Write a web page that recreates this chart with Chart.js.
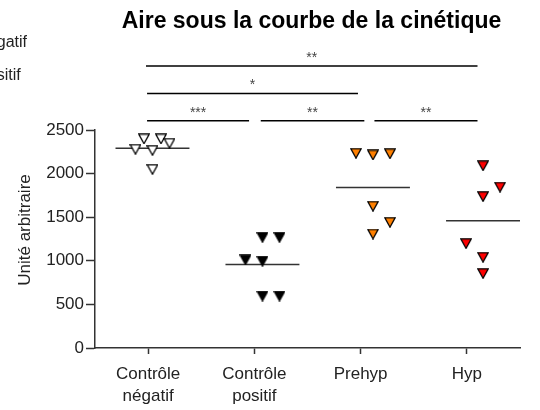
<!DOCTYPE html>
<html>
<head>
<meta charset="utf-8">
<script src="https://cdn.jsdelivr.net/npm/chart.js@4.4.1/dist/chart.umd.min.js"></script>
<style>
  html, body { margin: 0; padding: 0; background: #fff; }
  #wrap { width: 540px; height: 410px; }
</style>
</head>
<body>
<div id="wrap"><canvas id="myChart"></canvas></div>
<script>
const categories = [['Contrôle', 'négatif'], ['Contrôle', 'positif'], 'Prehyp', 'Hyp'];
const legendLabels = ['Contrôle négatif', 'Contrôle positif'];
const yTicks = [0, 500, 1000, 1500, 2000, 2500];

// one value per animal
const negatifValues = [2279, 2398, 2266, 2398, 2348, 2048];
const positifValues = [1269, 1269, 1011, 996, 596, 596];
const prehypValues = [2233, 2214, 2227, 1626, 1441, 1307];
const hypValues = [2090, 1845, 1736, 1197, 1040, 854];

// horizontal slot of each point around its column (scatter spread)
const negatifSlots = [-2, -1, 0, 1, 2, 0];
const positifSlots = [0, 2, -2, 0, 0, 2];
const prehypSlots = [-2, 0, 2, 0, 2, 0];
const hypSlots = [0, 2, 0, -2, 0, 0];

// significance brackets
const sigFrom = [0.98, 0.99, 0.99, 2.06, 3.13];
const sigTo = [4.10, 2.975, 1.95, 3.035, 4.10];
const sigLevel = [3233, 2920, 2607, 2607, 2607];
const sigStars = ['**', '*', '***', '**', '**'];

const FONT = '"Liberation Sans", Arial, sans-serif';
const columnCentres = [1.041, 2.076, 3.116, 4.152];
const slotStep = 0.08;
const meanHalfWidth = 0.348;

// down-pointing triangle marker, centred on its bounding box
function triangle(fill) {
  const c = document.createElement('canvas');
  c.width = 12;
  c.height = 11;
  const ctx = c.getContext('2d');
  ctx.beginPath();
  ctx.moveTo(0.8, 0.8);
  ctx.lineTo(11.2, 0.8);
  ctx.lineTo(6, 10.2);
  ctx.closePath();
  ctx.fillStyle = fill;
  ctx.fill();
  ctx.strokeStyle = '#000';
  ctx.lineWidth = 1.3;
  ctx.lineJoin = 'miter';
  ctx.stroke();
  return c;
}

const groups = [
  { values: negatifValues, slots: negatifSlots, color: '#ffffff' },
  { values: positifValues, slots: positifSlots, color: '#000000' },
  { values: prehypValues, slots: prehypSlots, color: '#ff8000' },
  { values: hypValues, slots: hypSlots, color: '#ff0000' },
];

const datasets = [];

groups.forEach((g, gi) => {
  const centre = columnCentres[gi];
  const mean = g.values.reduce((a, b) => a + b, 0) / g.values.length;
  datasets.push({
    label: 'mean' + gi,
    showLine: true,
    data: [{ x: centre - meanHalfWidth, y: mean }, { x: centre + meanHalfWidth, y: mean }],
    borderColor: '#333',
    borderWidth: 1.5,
    pointRadius: 0,
    order: 2,
  });
  datasets.push({
    label: 'group' + gi,
    data: g.values.map((v, i) => ({ x: centre + g.slots[i] * slotStep, y: v })),
    pointStyle: triangle(g.color),
    pointRadius: 6,
    order: 1,
  });
});

sigFrom.forEach((from, i) => {
  datasets.push({
    label: 'sig' + i,
    showLine: true,
    data: [{ x: from, y: sigLevel[i] }, { x: sigTo[i], y: sigLevel[i] }],
    borderColor: '#000',
    borderWidth: 1.5,
    pointRadius: 0,
    clip: false,
    order: 3,
  });
});

const textPlugin = {
  id: 'texts',
  afterDraw(chart) {
    const ctx = chart.ctx;
    const area = chart.chartArea;
    const xs = chart.scales.x;
    const ys = chart.scales.y;
    ctx.save();

    ctx.fillStyle = '#000';
    ctx.font = 'bold 23px ' + FONT;
    ctx.textAlign = 'center';
    ctx.textBaseline = 'alphabetic';
    ctx.fillText('Aire sous la courbe de la cinétique', (area.left + area.right) / 2 + 4, 28);

    // legend runs off the left edge
    ctx.fillStyle = '#222';
    ctx.font = '16px ' + FONT;
    ctx.textAlign = 'left';
    const legendX = 27 - ctx.measureText(legendLabels[0]).width;
    ctx.fillText(legendLabels[0], legendX, 47);
    ctx.fillText(legendLabels[1], legendX, 80);

    ctx.save();
    ctx.translate(25, 230);
    ctx.rotate(-Math.PI / 2);
    ctx.textAlign = 'center';
    ctx.textBaseline = 'middle';
    ctx.font = '17px ' + FONT;
    ctx.fillText('Unité arbitraire', 0, 0);
    ctx.restore();

    ctx.fillStyle = '#444';
    ctx.font = '14px ' + FONT;
    ctx.textAlign = 'center';
    sigStars.forEach((s, i) => {
      const x = xs.getPixelForValue((sigFrom[i] + sigTo[i]) / 2);
      const y = ys.getPixelForValue(sigLevel[i]) - 4;
      ctx.fillText(s, x, y);
    });
    ctx.restore();
  }
};

const config = {
  type: 'scatter',
  data: { datasets: datasets },
  options: {
    responsive: false,
    animation: false,
    events: [],
    layout: { padding: { top: 130, right: 20, left: 0, bottom: 0 } },
    plugins: {
      legend: { display: false },
      tooltip: { enabled: false },
    },
    scales: {
      x: {
        type: 'linear',
        min: 0.5,
        max: 4.5,
        afterBuildTicks: (scale) => {
          scale.ticks = categories.map((c, i) => ({ value: i + 1 }));
        },
        afterFit: (scale) => { scale.height = 62; },
        grid: { drawOnChartArea: false, drawTicks: true, tickLength: 6, tickColor: '#333', tickWidth: 1.5 },
        border: { color: '#333', width: 1.5 },
        ticks: {
          padding: 10,
          color: '#222',
          font: { family: FONT, size: 17, lineHeight: 1.25 },
          maxRotation: 0,
          callback: (v) => categories[Math.round(v) - 1],
        },
      },
      y: {
        min: 0,
        max: 2500,
        afterBuildTicks: (scale) => {
          scale.ticks = yTicks.map(v => ({ value: v }));
        },
        afterFit: (scale) => { scale.width = 95; },
        grid: { drawOnChartArea: false, drawTicks: true, tickLength: 9, tickColor: '#333', tickWidth: 1.5 },
        border: { color: '#333', width: 1.5 },
        ticks: {
          padding: 2,
          color: '#222',
          font: { family: FONT, size: 17 },
          callback: (v) => String(v),
        },
      },
    },
  },
  plugins: [textPlugin],
};

const canvas = document.getElementById('myChart');
canvas.width = 540;
canvas.height = 410;
const myChart = new Chart(canvas, config);
</script>
</body>
</html>
